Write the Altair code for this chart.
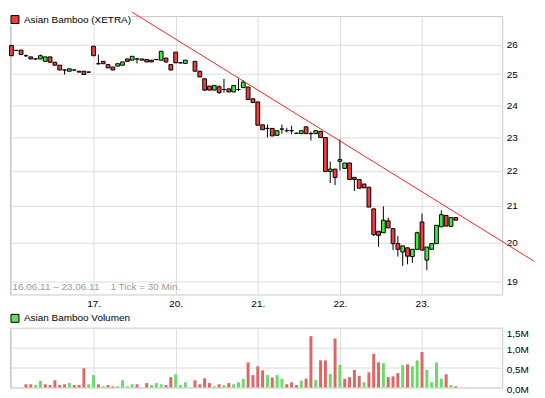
import altair as alt
import pandas as pd

# ---------------- data ----------------
# 30-minute slots: 17 per trading day (16., 17., 20., 21., 22., 23. June 2011)
slots = [0, 1, 2, 3, 4, 5, 6, 7, 8, 9, 10, 11, 12, 13, 14, 15, 16,
         17, 18, 19, 20, 21, 22, 23, 24, 25, 26, 27, 28, 29, 30, 31, 32, 33,
         34, 35, 36, 38, 39, 40, 41, 42, 43, 44, 45, 46, 47, 48, 49, 50,
         51, 52, 53, 54, 55, 56, 57, 58, 59, 60, 61, 62, 63, 64, 65, 66, 67,
         68, 69, 70, 71, 72, 73, 74, 75, 76, 77, 78, 79, 80, 81, 82, 83, 84,
         85, 86, 87, 88, 89, 90, 91, 92]
opens = [25.97, 25.80, 25.81, 25.62, 25.58, 25.51, 25.51, 25.43, 25.58, 25.40, 25.30, 25.14, 25.10, 25.14, 25.10, 25.10, 25.07,
         25.94, 25.35, 25.43, 25.32, 25.24, 25.27, 25.30, 25.51, 25.47, 25.51, 25.47, 25.49, 25.47, 25.49, 25.47, 25.54, 25.32,
         25.74, 25.38, 25.36, 25.43, 25.10, 24.85, 24.61, 24.48, 24.59, 24.50, 24.52, 24.42, 24.50, 24.56, 24.58, 24.20,
         24.10, 23.38, 23.27, 23.27, 23.06, 23.25, 23.20, 23.20, 23.12, 23.11, 23.32, 23.11, 23.11, 23.18, 22.99, 21.98, 22.05,
         22.28, 22.07, 22.23, 21.81, 21.75, 21.62, 21.53, 20.92, 20.31, 20.27, 20.59, 20.38, 19.98, 19.76, 19.87, 19.64, 19.83,
         20.56, 19.55, 19.83, 19.98, 20.43, 20.74, 20.44, 20.68]
highs = [25.97, 25.81, 25.81, 25.66, 25.58, 25.53, 25.66, 25.58, 25.58, 25.40, 25.30, 25.16, 25.18, 25.16, 25.10, 25.10, 25.08,
         25.94, 25.66, 25.43, 25.32, 25.24, 25.35, 25.41, 25.51, 25.60, 25.53, 25.51, 25.49, 25.47, 25.51, 25.77, 25.54, 25.32,
         25.74, 25.40, 25.47, 25.43, 25.10, 24.85, 24.61, 24.63, 24.63, 24.85, 24.52, 24.63, 24.85, 24.80, 24.58, 24.20,
         24.10, 23.38, 23.39, 23.27, 23.20, 23.39, 23.29, 23.35, 23.14, 23.20, 23.32, 23.17, 23.20, 23.18, 22.99, 22.27, 22.05,
         22.94, 22.23, 22.23, 21.81, 21.75, 21.62, 21.53, 20.92, 20.31, 20.99, 20.68, 20.38, 20.18, 19.92, 19.87, 19.83, 20.30,
         20.79, 19.89, 19.98, 20.47, 20.88, 20.74, 20.68, 20.68]
lows = [25.62, 25.78, 25.66, 25.58, 25.51, 25.49, 25.51, 25.43, 25.40, 25.30, 25.14, 24.99, 25.10, 25.12, 25.07, 24.99, 25.05,
        25.62, 25.32, 25.35, 25.21, 25.14, 25.27, 25.30, 25.43, 25.47, 25.36, 25.47, 25.41, 25.41, 25.47, 25.47, 25.38, 25.14,
        25.38, 25.36, 25.36, 25.10, 24.91, 24.45, 24.48, 24.48, 24.36, 24.40, 24.42, 24.42, 24.45, 24.56, 24.18, 24.08,
        23.37, 23.23, 22.99, 23.04, 23.06, 23.11, 23.15, 23.09, 23.10, 23.11, 23.11, 22.90, 23.11, 22.99, 21.98, 21.65, 21.59,
        22.01, 22.07, 21.75, 21.42, 21.50, 21.51, 20.97, 20.18, 19.89, 20.27, 20.40, 19.81, 19.64, 19.40, 19.44, 19.48, 19.83,
        19.81, 19.29, 19.83, 19.98, 20.43, 20.45, 20.44, 20.61]
closes = [25.62, 25.80, 25.66, 25.62, 25.51, 25.51, 25.62, 25.58, 25.40, 25.30, 25.14, 25.14, 25.18, 25.14, 25.07, 24.99, 25.07,
          25.62, 25.35, 25.35, 25.21, 25.14, 25.35, 25.41, 25.43, 25.60, 25.51, 25.51, 25.41, 25.41, 25.49, 25.77, 25.41, 25.14,
          25.38, 25.38, 25.47, 25.10, 24.91, 24.48, 24.48, 24.63, 24.40, 24.50, 24.42, 24.63, 24.50, 24.74, 24.18, 24.08,
          23.37, 23.23, 23.27, 23.04, 23.20, 23.25, 23.20, 23.20, 23.12, 23.20, 23.11, 23.11, 23.20, 22.99, 21.98, 22.05, 21.81,
          22.33, 22.23, 21.75, 21.75, 21.50, 21.51, 20.97, 20.22, 20.20, 20.61, 20.40, 19.98, 19.83, 19.92, 19.65, 19.83, 20.27,
          19.81, 19.89, 19.98, 20.47, 20.76, 20.45, 20.68, 20.61]

vol_slots = list(range(93))
volumes = [0, 0, 0, 0.08, 0.08, 0.06, 0.16, 0.08, 0.06, 0.18, 0.06, 0.08, 0.11, 0.06, 0.06, 0.48, 0.08,
           0.31, 0.08, 0.03, 0.06, 0.03, 0.03, 0.18, 0.03, 0.08, 0.08, 0, 0.11, 0.06, 0.11, 0.08, 0.06, 0.26,
           0.33, 0.06, 0.13, 0, 0.18, 0.08, 0.23, 0.11, 0.03, 0.08, 0.06, 0.11, 0.08, 0.13, 0.21, 0.63, 0.31,
           0.53, 0.43, 0.31, 0.25, 0.31, 0.22, 0.08, 0.13, 0.06, 0.17, 0.22, 1.29, 0.19, 0.68, 0.68, 0.34, 1.23,
           0.57, 0.22, 0.26, 0.44, 0.29, 0.13, 0.38, 0.84, 0.63, 0.61, 0.26, 0.28, 0.36, 0.56, 0.58, 0.53, 0.68,
           0.89, 0.44, 0.13, 0.63, 0.22, 0.33, 0.06, 0.03]
vol_dir = ["down", "down", "down", "down", "down", "up", "up", "down", "down", "down", "down", "down", "up", "down", "down", "down", "up",
           "up", "down", "up", "down", "down", "up", "up", "up", "up", "down", "down", "down", "up", "up", "up", "down", "down",
           "up", "up", "up", "down", "down", "down", "down", "down", "up", "down", "up", "down", "up", "up", "up", "down", "down",
           "down", "down", "up", "down", "up", "up", "down", "down", "down", "up", "down", "down", "up", "down", "down", "up", "down",
           "up", "down", "down", "down", "down", "up", "down", "down", "down", "up", "down", "down", "down", "up", "down", "up", "up",
           "down", "up", "up", "up", "up", "down", "up", "down"]

day_starts = [0, 17, 34, 51, 68, 85]
day_labels = ["16.", "17.", "20.", "21.", "22.", "23."]
price_ticks = [19, 20, 21, 22, 23, 24, 25, 26]
vol_ticks = [0, 0.5, 1.0, 1.5]

trend_slots = [24.97, 108.2]
trend_prices = [27.14, 19.52]

TITLE = "Asian Bamboo (XETRA)"
VOL_TITLE = "Asian Bamboo Volumen"
RANGE_NOTE = "16.06.11 \u2013 23.06.11\u00a0\u00a0\u00a0\u00a01 Tick = 30 Min."

# ---------------- styling ----------------
FONT = "Liberation Sans"
RED = "#f23c3c"
GREEN = "#3ce83c"
VRED = "#e06666"
VGREEN = "#66dd66"
GRID = "#dcdcdc"

candles = pd.DataFrame({"slot": slots, "open": opens, "high": highs, "low": lows, "close": closes})
candles["dir"] = ["up" if c >= o else "down" for o, c in zip(opens, closes)]
vol_df = pd.DataFrame({"slot": vol_slots, "vol": volumes, "vdir": vol_dir})
trend = pd.DataFrame({"slot": trend_slots, "price": trend_prices})
legend_price = pd.DataFrame({"name": [TITLE]})
legend_vol = pd.DataFrame({"name": [VOL_TITLE]})

label_expr = "''"
for s, lab in reversed(list(zip(day_starts[1:], day_labels[1:]))):
    label_expr = f"datum.value == {s} ? '{lab}' : ({label_expr})"

xscale = alt.Scale(domain=[-0.3, 101.6], nice=False, zero=False, padding=0)
yscale = alt.Scale(type="log", domain=[18.68, 27.0], nice=False)
vscale = alt.Scale(domain=[0, 1.5], nice=False, zero=True)

x_axis = alt.Axis(values=day_starts, labelExpr=label_expr, grid=True, gridColor=GRID,
                  ticks=False, domain=False, labelFont=FONT, labelFontSize=10,
                  labelColor="black", labelPadding=4,
                  title=RANGE_NOTE, titleX=2, titleY=-8, titleAnchor="start", titleAlign="left",
                  titleBaseline="middle", titleColor="#9a9a9a", titleFont=FONT,
                  titleFontSize=10, titleFontWeight="normal")
y_axis = alt.Axis(orient="right", values=price_ticks, format="d", grid=True, gridColor=GRID,
                  ticks=False, domain=False, labelPadding=4, title=None, labelOverlap=False,
                  labelFont=FONT, labelFontSize=10, labelColor="black")


def legend(pos_y):
    return alt.Legend(orient="none", legendX=0, legendY=pos_y, title=None,
                      symbolType="square", symbolSize=64,
                      symbolStrokeColor="black", symbolStrokeWidth=1,
                      symbolOpacity=1, labelFont=FONT, labelFontSize=10,
                      labelColor="black", labelOffset=4, padding=0, fillColor="white")


base = alt.Chart(candles)
wicks = base.mark_rule(color="black", strokeWidth=1).encode(
    x=alt.X("slot:Q", scale=xscale, axis=x_axis),
    y=alt.Y("low:Q", scale=yscale, axis=y_axis),
    y2="high:Q",
)
bodies = base.mark_bar(size=3.8, stroke="black", strokeWidth=1).encode(
    x=alt.X("slot:Q", scale=xscale),
    y=alt.Y("open:Q", scale=yscale),
    y2="close:Q",
    fill=alt.Fill("dir:N", scale=alt.Scale(domain=["up", "down"], range=[GREEN, RED]), legend=None),
)
trend_line = alt.Chart(trend).mark_line(color="#ff2020", strokeWidth=1, clip=False).encode(
    x=alt.X("slot:Q", scale=xscale),
    y=alt.Y("price:Q", scale=yscale),
)
price_legend = alt.Chart(legend_price).mark_square(opacity=0).encode(
    color=alt.Color("name:N", scale=alt.Scale(domain=[TITLE], range=[RED]), legend=legend(-1.5)),
)
price = alt.layer(wicks, bodies, trend_line, price_legend).properties(width=495, height=280)

vol_label_expr = "replace(format(datum.value, '.1f'), '.', ',') + 'M'"
vol_axis = alt.Axis(orient="right", values=vol_ticks, labelExpr=vol_label_expr,
                    grid=True, gridColor=GRID, ticks=False, domain=False,
                    labelPadding=4, title=None, labelFont=FONT, labelFontSize=10,
                    labelColor="black", labelOverlap=False,
                    labelOffset={"condition": {"test": "datum.value >= 1.5", "value": 6}, "value": 2})
vol_bars = alt.Chart(vol_df).mark_bar(size=3).encode(
    x=alt.X("slot:Q", scale=xscale,
            axis=alt.Axis(values=day_starts, labels=False, ticks=False, domain=False,
                          grid=True, gridColor=GRID, title=None)),
    y=alt.Y("vol:Q", scale=vscale, axis=vol_axis),
    fill=alt.Fill("vdir:N", scale=alt.Scale(domain=["up", "down"], range=[VGREEN, VRED]), legend=None),
)
vol_legend = alt.Chart(legend_vol).mark_square(opacity=0).encode(
    color=alt.Color("name:N", scale=alt.Scale(domain=[VOL_TITLE], range=[VGREEN]), legend=legend(-14.5)),
)
volume = alt.layer(vol_bars, vol_legend).properties(width=495, height=60)

chart = alt.vconcat(price, volume, spacing=3.5).resolve_scale(
    x="independent", y="independent", fill="independent", color="independent"
).properties(padding=0, background="white").configure_view(stroke="#c8c8c8", strokeWidth=1)

chart.save("out.html", embed_options={"renderer": "svg", "actions": False})
